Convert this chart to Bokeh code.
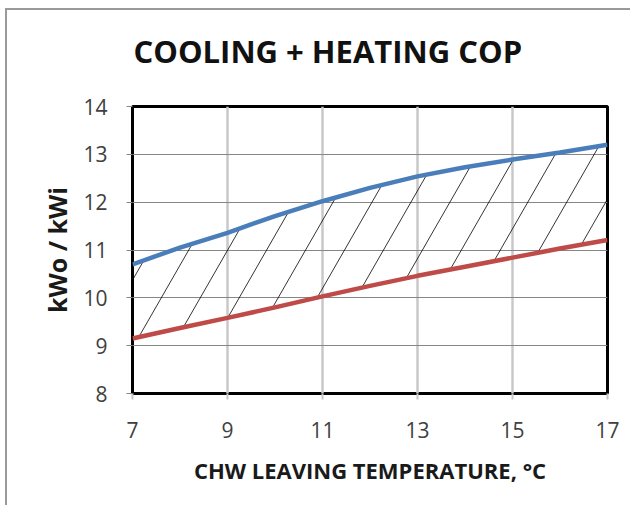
import numpy as np
from bokeh.plotting import figure
from bokeh.models import FixedTicker, Range1d, Title
from bokeh.embed import file_html
from bokeh.resources import INLINE

# ---- data ----
chw_temp = [7, 8, 9, 10, 11, 12, 13, 14, 15, 16, 17]
cop_upper = [10.70, 11.05, 11.36, 11.71, 12.02, 12.30, 12.54, 12.73, 12.89, 13.04, 13.20]
cop_lower = [9.15, 9.37, 9.58, 9.80, 10.03, 10.25, 10.46, 10.65, 10.84, 11.03, 11.21]
x_ticks = [7, 9, 11, 13, 15, 17]
y_ticks = [8, 9, 10, 11, 12, 13, 14]

title_text = "COOLING + HEATING COP"
x_label = "CHW LEAVING TEMPERATURE, \u00b0C"
y_label = "kWo / kWi"

# ---- styles ----
BLUE = "#4a7ebb"
RED = "#be4b48"
FONT = "Open Sans"
hatch_slope = 1.73      # slope of hatch lines in data units
hatch_step = 0.82       # horizontal spacing of hatch lines
hatch_first = 5.63      # x where first hatch line meets the bottom of the axis

p = figure(width=625, height=497, x_range=Range1d(7, 17), y_range=Range1d(8, 14),
           output_backend="svg", toolbar_location=None,
           min_border_left=125, min_border_top=0, min_border_right=25, min_border_bottom=114)
p.styles = {"border-left": "2px solid #9a9a9a", "border-top": "2px solid #9a9a9a",
            "margin-left": "5px", "margin-top": "8px"}

p.outline_line_color = "black"
p.outline_line_width = 3
p.background_fill_color = "white"
p.border_fill_color = "white"

# spacer between title and frame
p.add_layout(Title(text=" ", text_font_size="10px", standoff=0), "above")

# title
p.title.text = title_text
p.title.align = "left"
p.title.vertical_align = "top"
p.title.offset = 1
p.title.standoff = 39
p.title.text_font = FONT
p.title.text_font_style = "bold"
p.title.text_font_size = "31px"
p.title.text_color = "#111111"

# grid
p.xgrid.ticker = FixedTicker(ticks=x_ticks)
p.ygrid.ticker = FixedTicker(ticks=y_ticks)
p.xgrid.grid_line_color = "#c8c8c8"
p.xgrid.grid_line_width = 2.5
p.ygrid.grid_line_color = "#868686"
p.ygrid.grid_line_width = 1

# axes
p.xaxis.ticker = FixedTicker(ticks=x_ticks)
p.yaxis.ticker = FixedTicker(ticks=y_ticks)
for ax in (p.xaxis[0], p.yaxis[0]):
    ax.axis_line_color = None
    ax.minor_tick_line_color = None
    ax.major_tick_in = 0
    ax.major_tick_out = 6
    ax.major_label_text_font = FONT
    ax.major_label_text_font_size = "21px"
    ax.major_label_text_color = "#404040"
    ax.axis_label_text_font = FONT
    ax.axis_label_text_font_style = "bold"
    ax.axis_label_text_color = "#1a1a1a"
p.xaxis.major_tick_line_color = "#c8c8c8"
p.xaxis.major_tick_line_width = 2
p.yaxis.major_tick_line_color = "#868686"
p.xaxis.major_label_standoff = 22
p.yaxis.major_label_standoff = 19
p.xaxis.axis_label = x_label
p.yaxis.axis_label = y_label
p.xaxis.axis_label_text_font_size = "22px"
p.yaxis.axis_label_text_font_size = "25px"
p.xaxis.axis_label_standoff = 14
p.yaxis.axis_label_standoff = 6

# hatch lines between the two curves
xs_fine = np.linspace(chw_temp[0], chw_temp[-1], 4001)
lo = np.interp(xs_fine, chw_temp, cop_lower)
hi = np.interp(xs_fine, chw_temp, cop_upper)
hx, hy = [], []
b = hatch_first
while b < chw_temp[-1]:
    line = y_ticks[0] + hatch_slope * (xs_fine - b)
    mask = (line >= lo) & (line <= hi)
    if mask.any():
        seg_x = xs_fine[mask]
        seg_y = line[mask]
        hx.append([seg_x[0], seg_x[-1]])
        hy.append([seg_y[0], seg_y[-1]])
    b += hatch_step
p.multi_line(hx, hy, line_color="black", line_width=0.8)

# curves
p.line(chw_temp, cop_upper, line_color=BLUE, line_width=4.5)
p.line(chw_temp, cop_lower, line_color=RED, line_width=4.5)

open("out.html", "w").write(file_html(p, INLINE))
